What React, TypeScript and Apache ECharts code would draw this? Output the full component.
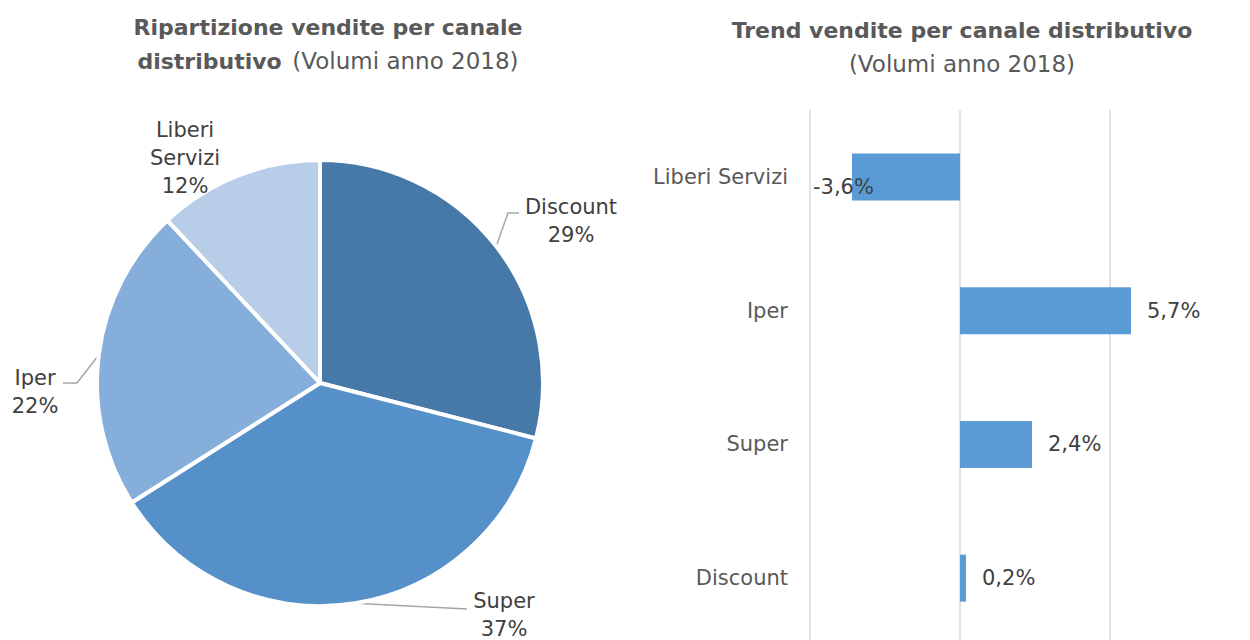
import React, { useEffect, useRef } from 'react';
import * as echarts from 'echarts';

// Pie: share of sales by channel (volumes 2018)
const pieCategories = ['Discount', 'Super', 'Iper', 'Liberi Servizi'];
const pieShares = [29, 37, 22, 12];
const pieColors = ['#4679A8', '#5591C8', '#85AEDB', '#B8CDE8'];

// Bars: trend by channel (%)
const barCategories = ['Liberi Servizi', 'Iper', 'Super', 'Discount'];
const barValues = [-3.6, 5.7, 2.4, 0.2];
const xMin = -5;
const xMax = 10;
const xInterval = 5;

const FONT = '"DejaVu Sans", sans-serif';
const TITLE_COLOR = '#595959';
const LABEL_COLOR = '#404040';
const LABEL_SIZE = 21;

// label placement (styling only)
const pieLabelPlacement = [
  { x: 571, y: 221, bend: [[508, 213], [519, 213]] },
  { x: 504, y: 615, bend: [[467, 609]] },
  { x: 35, y: 392, bend: [[77, 383], [63, 383]] },
  { x: 185, y: 158, bend: null },
];

export default function App() {
  const ref = useRef<HTMLDivElement>(null);

  useEffect(() => {
    if (!ref.current) return;
    const chart = echarts.init(ref.current, null, { renderer: 'svg' });

    const titleRich = {
      b: { fontFamily: FONT, fontWeight: 'bold', fontSize: 22, fill: TITLE_COLOR, lineHeight: 34 },
      n: { fontFamily: FONT, fontWeight: 'normal', fontSize: 23, fill: TITLE_COLOR, lineHeight: 34 },
    };

    const option: any = {
      animation: false,
      backgroundColor: '#ffffff',
      graphic: [
        {
          type: 'text',
          x: 328,
          y: 44,
          style: {
            text: '{b|Ripartizione vendite per canale}\n{b|distributivo} {n| (Volumi anno 2018)}',
            rich: titleRich,
            align: 'center',
            verticalAlign: 'middle',
          },
        },
        {
          type: 'text',
          x: 962,
          y: 47,
          style: {
            text: '{b|Trend vendite per canale distributivo}\n{n|(Volumi anno 2018)}',
            rich: titleRich,
            align: 'center',
            verticalAlign: 'middle',
          },
        },
      ],
      grid: { left: 810, top: 110, width: 450, height: 535, outerBoundsMode: 'none', containLabel: false },
      xAxis: {
        type: 'value',
        min: xMin,
        max: xMax,
        interval: xInterval,
        axisLabel: { show: false },
        axisLine: { show: false },
        axisTick: { show: false },
        splitLine: { show: true, lineStyle: { color: '#D9D9D9', width: 1.5 } },
      },
      yAxis: {
        type: 'category',
        data: barCategories,
        inverse: true,
        axisLine: { show: false },
        axisTick: { show: false },
        axisLabel: { fontFamily: FONT, fontSize: LABEL_SIZE, color: TITLE_COLOR, margin: 22 },
      },
      series: [
        {
          type: 'pie',
          center: [320, 383],
          radius: 223,
          startAngle: 90,
          clockwise: true,
          itemStyle: { borderColor: '#ffffff', borderWidth: 4 },
          label: {
            show: true,
            position: 'outside',
            overflow: 'none',
            fontFamily: FONT,
            fontSize: LABEL_SIZE,
            lineHeight: 28,
            color: LABEL_COLOR,
            formatter: (p: any) => `${p.name.replace(' ', '\n')}\n${p.value}%`,
          },
          labelLine: { show: true, lineStyle: { color: '#A6A6A6', width: 1.5 } },
          labelLayout: (p: any) => {
            const pl = pieLabelPlacement[p.dataIndex];
            const res: any = { x: pl.x, y: pl.y, align: 'center', verticalAlign: 'middle' };
            if (pl.bend && p.labelLinePoints) {
              res.labelLinePoints = [p.labelLinePoints[0], ...pl.bend];
            }
            return res;
          },
          data: pieCategories.map((name, i) => ({
            name,
            value: pieShares[i],
            itemStyle: { color: pieColors[i] },
            labelLine: { show: pieLabelPlacement[i].bend !== null },
          })),
        },
        {
          type: 'bar',
          data: barValues,
          barWidth: 47,
          itemStyle: { color: '#5B9BD5' },
          label: {
            show: true,
            position: 'right',
            distance: 16,
            fontFamily: FONT,
            fontSize: LABEL_SIZE,
            color: LABEL_COLOR,
            formatter: (p: any) => `${Number(p.value).toFixed(1).replace('.', ',')}%`,
          },
          labelLayout: (p: any) =>
            barValues[p.dataIndex] < 0 ? { x: 813, align: 'left' } : {},
        },
      ],
    };

    chart.setOption(option);
    return () => chart.dispose();
  }, []);

  return (
    <div
      ref={ref}
      style={{ position: 'absolute', left: 0, top: 0, width: 1250, height: 640 }}
    />
  );
}
